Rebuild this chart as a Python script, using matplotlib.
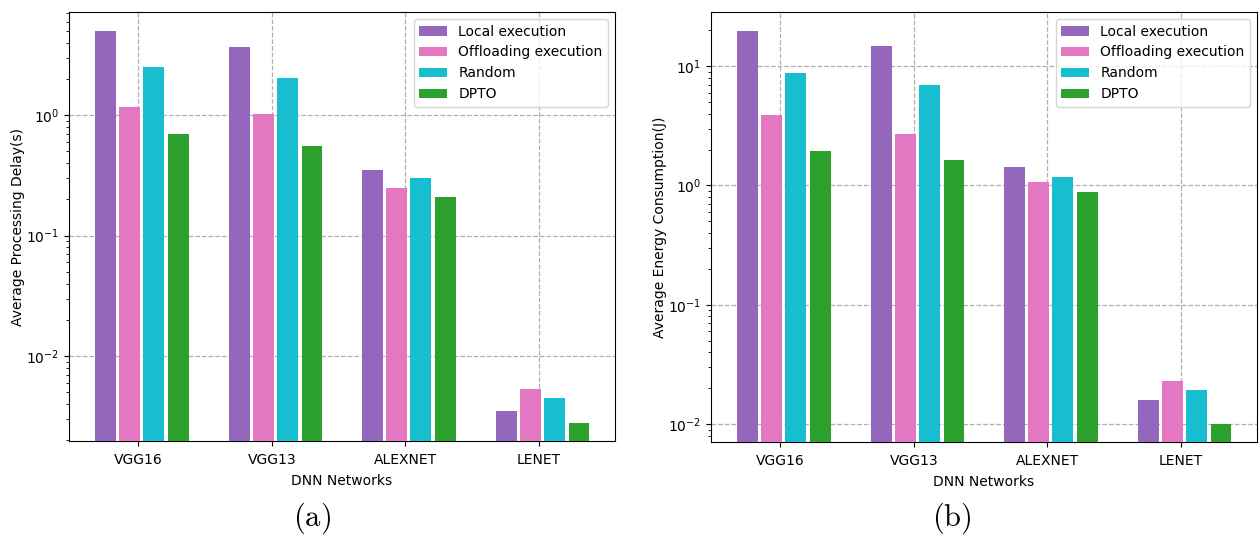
import numpy as np
import matplotlib.pyplot as plt

plt.rcParams['mathtext.fontset'] = 'cm'

networks = ['VGG16', 'VGG13', 'ALEXNET', 'LENET']
methods = ['Local execution', 'Offloading execution', 'Random', 'DPTO']
colours = ['tab:purple', 'tab:pink', 'tab:cyan', 'tab:green']

# delay in seconds
delay_local = [5.0, 3.67, 0.35, 0.0035]
delay_offload = [1.17, 1.02, 0.248, 0.0053]
delay_random = [2.5, 2.03, 0.30, 0.0045]
delay_dpto = [0.70, 0.56, 0.209, 0.0028]

# energy in joules
energy_local = [19.6, 14.7, 1.44, 0.0159]
energy_offload = [3.88, 2.68, 1.07, 0.0229]
energy_random = [8.73, 6.93, 1.18, 0.0193]
energy_dpto = [1.93, 1.65, 0.89, 0.0101]

x = np.arange(len(networks))
offsets = [-0.245, -0.065, 0.115, 0.30]
width = 0.155

fig = plt.figure(figsize=(12.6, 5.37), dpi=100)
ax1 = fig.add_axes([69 / 1260, 96 / 537, 546 / 1260, 429 / 537])
ax2 = fig.add_axes([711 / 1260, 95 / 537, 546 / 1260, 430 / 537])


def draw(ax, series, ylabel, ylim):
  for s, off, c, lab in zip(series, offsets, colours, methods):
    ax.bar(x + off, s, width, color=c, label=lab, zorder=3)
  ax.set_yscale('log')
  ax.set_ylim(*ylim)
  ax.set_xlim(-0.52, 3.57)
  ax.set_xticks(x, networks)
  ax.set_xlabel('DNN Networks', fontsize=10, labelpad=5)
  ax.set_ylabel(ylabel, fontsize=10, labelpad=1)
  ax.grid(True, which='major', linestyle='--', color='#b0b0b0', linewidth=0.9, zorder=0)
  ax.tick_params(labelsize=10)
  ax.tick_params(axis='x', pad=5)
  ax.legend(loc='upper right', fontsize=10)


draw(ax1, [delay_local, delay_offload, delay_random, delay_dpto],
     'Average Processing Delay(s)', (0.00197, 7.2))
draw(ax2, [energy_local, energy_offload, energy_random, energy_dpto],
     'Average Energy Consumption(J)', (0.0071, 28.4))

fig.text(312 / 1260, 1 - 518 / 537, r'$\mathrm{(a)}$', fontsize=22, ha='center', va='center')
fig.text(952 / 1260, 1 - 518 / 537, r'$\mathrm{(b)}$', fontsize=22, ha='center', va='center')

plt.savefig('out.png', dpi=100)
